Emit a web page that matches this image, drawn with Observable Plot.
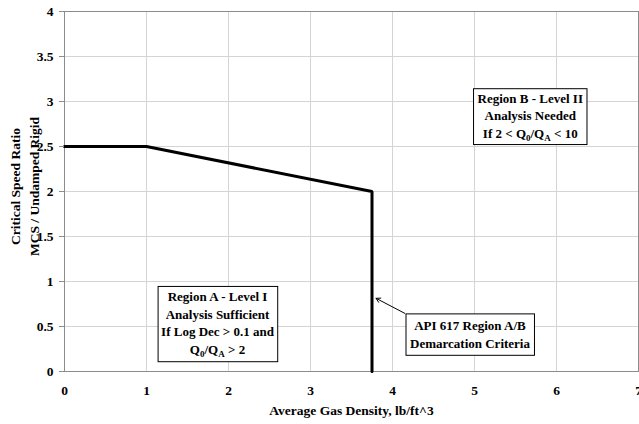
<!DOCTYPE html>
<html><head><meta charset="utf-8">
<script src="https://cdn.jsdelivr.net/npm/d3@7"></script>
<script src="https://cdn.jsdelivr.net/npm/@observablehq/plot@0.6"></script>
<style>body{margin:0;background:#fff}</style>
</head><body><div id="chart"></div>
<script>
// ---- data ----
const density = [0, 1, 3.75, 3.75];
const ratio = [2.5, 2.5, 2.0, 0];
const xTicks = [0, 1, 2, 3, 4, 5, 6, 7];
const yTicks = [0, 0.5, 1, 1.5, 2, 2.5, 3, 3.5, 4];
const noteText = [
  "Region B - Level II\nAnalysis Needed\nIf 2 < Q_0/Q_A < 10",
  "Region A - Level I\nAnalysis Sufficient\nIf Log Dec > 0.1 and\nQ_0/Q_A > 2",
  "API 617 Region A/B\nDemarcation Criteria"
];
const noteX = [5.68, 1.866, 4.945];
const noteY = [2.855, 0.55, 0.422];
const pointerFrom = [4.15, 0.646];
const pointerTo = [3.80, 0.813];
const xLabel = "Average Gas Density, lb/ft^3";
const yLabel = "Critical Speed Ratio\nMCS / Undamped Rigid";

const curve = density.map((d, i) => ({x: d, y: ratio[i]}));
const notes = noteText.map((t, i) => ({text: t, x: noteX[i], y: noteY[i]}));
const pointer = [{x1: pointerFrom[0], y1: pointerFrom[1], x2: pointerTo[0], y2: pointerTo[1]}];

const FONT = "'Liberation Serif', 'Times New Roman', serif";

const chart = Plot.plot({
  width: 639, height: 424,
  marginLeft: 64, marginRight: 1, marginTop: 11, marginBottom: 53,
  style: {fontFamily: FONT, background: "#fff", color: "black"},
  x: {domain: [0, 7], label: null},
  y: {domain: [0, 4], label: null},
  marks: [
    Plot.gridX(xTicks, {stroke: "#d4d4d4", strokeOpacity: 1}),
    Plot.gridY(yTicks, {stroke: "#d4d4d4", strokeOpacity: 1}),
    Plot.frame({stroke: "#8c8c8c"}),
    Plot.line(curve, {x: "x", y: "y", stroke: "black", strokeWidth: 3, strokeLinejoin: "miter"}),
    Plot.arrow(pointer, {x1: "x1", y1: "y1", x2: "x2", y2: "y2", stroke: "black", strokeWidth: 1, headLength: 7}),
    Plot.text(notes, {x: "x", y: "y", text: "text", fontSize: 13, fontWeight: "bold", lineHeight: 1.34, fill: "black"}),
    Plot.axisX(xTicks, {tickSize: 0, tickPadding: 14, fontSize: 13.5, fontWeight: "bold", tickFormat: d => String(d), label: null}),
    Plot.axisY(yTicks, {tickSize: 5, tickPadding: 6, stroke: "#8c8c8c", fill: "black", fontSize: 13.5, fontWeight: "bold", tickFormat: d => String(d), label: null}),
    Plot.text([xLabel], {text: d => d, frameAnchor: "bottom", dy: 43, fontSize: 13.5, fontWeight: "bold", fill: "black"}),
    Plot.text([yLabel], {text: d => d, frameAnchor: "left", textAnchor: "middle", dx: -41, dy: -5, rotate: -90, lineHeight: 1.42, fontSize: 13.5, fontWeight: "bold", fill: "black"})
  ]
});
document.getElementById("chart").appendChild(chart);

// subscripts and boxes for annotations
const pads = {"Region B": [4, 2], "Region A": [3, 3], "API 617": [4, 4.5]};
const ns = "http://www.w3.org/2000/svg";
function subscript(el) {
  const s = el.textContent;
  if (!s.includes("_")) return;
  const parts = s.split(/_(\w)/);
  el.textContent = "";
  parts.forEach((p, i) => {
    if (p === "") return;
    const t = document.createElementNS(ns, "tspan");
    t.textContent = p;
    if (i % 2 === 1) { t.setAttribute("font-size", "9"); t.setAttribute("dy", "3"); }
    else if (i > 0) { t.setAttribute("dy", "-3"); }
    el.appendChild(t);
  });
}
chart.querySelectorAll("text").forEach(el => {
  const s = el.textContent;
  const key = Object.keys(pads).find(k => s.startsWith(k));
  if (!key) return;
  const lines = el.querySelectorAll("tspan");
  if (lines.length) lines.forEach(subscript); else subscript(el);
  const bb = el.getBBox();
  const [px, py] = pads[key];
  const r = document.createElementNS(ns, "rect");
  r.setAttribute("x", bb.x - px);
  r.setAttribute("y", bb.y - py);
  r.setAttribute("width", bb.width + 2 * px);
  r.setAttribute("height", bb.height + 2 * py);
  r.setAttribute("fill", "white");
  r.setAttribute("stroke", "black");
  r.setAttribute("stroke-width", "1");
  if (el.getAttribute("transform")) r.setAttribute("transform", el.getAttribute("transform"));
  el.parentNode.insertBefore(r, el);
});
</script>
</body></html>
